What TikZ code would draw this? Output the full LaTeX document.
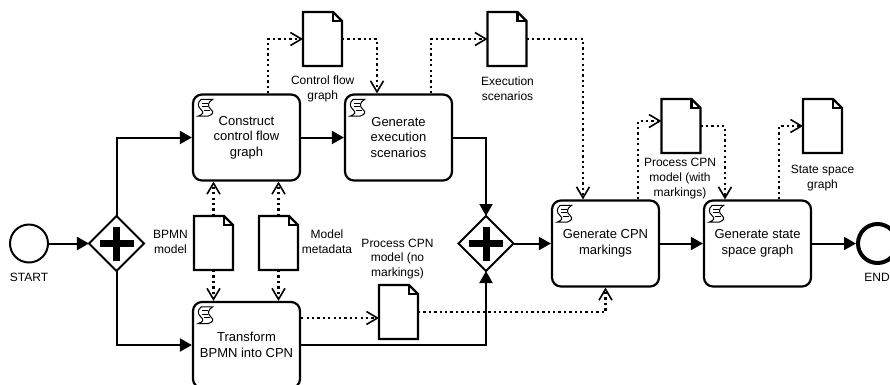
\documentclass[tikz,border=0pt]{standalone}
\usepackage{fontspec}
\setmainfont{Liberation Sans}
\usetikzlibrary{arrows.meta,shapes.geometric}

\begin{document}
\begin{tikzpicture}[x=1pt,y=-1pt]
		\tikzset{task/.style = {draw,line width=2.2pt,rounded corners=9pt,minimum width=107pt,minimum height=86pt,inner sep=0pt,align=center,font=\fontsize{13}{15.5}\selectfont}}
		\tikzset{caption/.style = {align=center,inner sep=0pt,font=\fontsize{12}{14.6}\selectfont}}
		\tikzset{event/.style = {shape=circle,draw,inner sep=0pt}}
		\tikzset{func/.style = {line width=2pt,-{Triangle[length=12pt,width=13pt]}}}
		\tikzset{data/.style = {line width=2.3pt,dash pattern=on 2.3pt off 3.1pt,-{Straight Barb[length=11pt,width=13pt,line width=1.6pt]}}}
		\tikzset{gateway/.style = {shape=diamond,draw,line width=1.8pt,inner sep=0pt,outer sep=0pt,minimum width=55pt,minimum height=55pt,
			append after command={
				([xshift=-17pt]\tikzlastnode.center) edge[line width=7pt] ([xshift=17pt]\tikzlastnode.center)
				([yshift=-17pt]\tikzlastnode.center) edge[line width=7pt] ([yshift=17pt]\tikzlastnode.center)}}}
		\tikzset{doc/.style = {inner sep=0pt,outer sep=0pt,minimum width=39pt,minimum height=54pt,
			append after command={
				(\tikzlastnode.south west) edge[line width=2.2pt,to path={-- (\tikzlastnode.north west) -- ([xshift=-9pt]\tikzlastnode.north east) -- ([yshift=-9pt]\tikzlastnode.north east) -- (\tikzlastnode.south east) -- cycle}] ()
				([xshift=-9pt]\tikzlastnode.north east) edge[line width=2.2pt,to path={|- ([yshift=-9pt]\tikzlastnode.north east)}] ()}}}
		\tikzset{scripticon/.pic = {
			\draw[line width=1pt] (9.3,6) -- (20.7,6) .. controls (15.5,9) and (15.5,13) .. (19,16) .. controls (22.5,19) and (21,21) .. (16.3,22.7) -- (6.3,22.7) .. controls (11,21) and (12.5,19) .. (9,16) .. controls (5.5,13) and (5.5,9) .. (9.3,6) -- cycle;
			\draw[line width=1pt] (10,10) -- (16,10) (10.5,13.5) -- (16.5,13.5) (12.5,17) -- (18.5,17);
		}}

		\path[use as bounding box,clip] (0,0) rectangle (890,384);

		% events
		\node[event,line width=2pt,minimum size=38pt] (start) at (29,243.5){};
		\node[caption] (startl) at (29,277){START};
		\node[event,line width=4pt,minimum size=39pt] (end) at (877.5,243.5){};
		\node[caption] (endl) at (877,277){END};

		% gateways
		\node[gateway] (gw1) at (116.5,243.5){};
		\node[gateway] (gw2) at (486,243.5){};

		% tasks
		\node[task] (tcfg) at (246.5,137.5){Construct\\control flow\\graph};
		\node[task] (tgen) at (398.5,137.5){Generate\\execution\\scenarios};
		\node[task] (ttrans) at (246.5,345){Transform\\BPMN into CPN};
		\node[task] (tmark) at (605.5,243.5){Generate CPN\\markings};
		\node[task] (tstate) at (757.5,243.5){Generate state\\space graph};
		\pic at (tcfg.north west) {scripticon};
		\pic at (tgen.north west) {scripticon};
		\pic at (ttrans.north west) {scripticon};
		\pic at (tmark.north west) {scripticon};
		\pic at (tstate.north west) {scripticon};

		% documents
		\node[doc] (dcfg) at (322.5,39){};
		\node[doc] (dexec) at (507,39){};
		\node[doc] (dbpmn) at (213.5,243){};
		\node[doc] (dmeta) at (278.5,243){};
		\node[doc] (dcpn) at (398.5,312){};
		\node[doc] (dmark) at (681,126){};
		\node[doc] (dstate) at (822.5,126){};

		% captions
		\node[caption] (lcfg) at (322.7,89){Control flow\\graph};
		\node[caption] (lexec) at (507.5,89){Execution\\scenarios};
		\node[caption] (lbpmn) at (170.5,242){BPMN\\model};
		\node[caption] (lmeta) at (327,242){Model\\metadata};
		\node[caption] (lcpn) at (397.5,259){Process CPN\\model (no\\markings)};
		\node[caption] (lmark) at (680,178.5){Process CPN\\model (with\\markings)};
		\node[caption] (lstate) at (822.5,178){State space\\graph};

		% sequence flow
		\draw[func] (start) to (gw1);
		\draw[func] (gw1.north) |- (tcfg.west);
		\draw[func] (gw1.south) |- (ttrans.west);
		\draw[func] (tcfg) to (tgen);
		\draw[func] (tgen.east) -| (gw2.north);
		\draw[func] (ttrans.east) -| (gw2.south);
		\draw[func] (gw2.east) -- (tmark.west);
		\draw[func] (tmark) to (tstate);
		\draw[func] (tstate) to (end);

		% data flow
		\draw[data] ([xshift=21.5pt]tcfg.north) |- (dcfg.west);
		\draw[data] (dcfg.east) -| ([xshift=-21.5pt]tgen.north);
		\draw[data] ([xshift=32.5pt]tgen.north) |- (dexec.west);
		\draw[data] (dexec.east) -| ([xshift=-22.5pt]tmark.north);
		\draw[data] ([xshift=32.5pt]tmark.north) |- ([yshift=5pt]dmark.west);
		\draw[data] (dmark.east) -| ([xshift=-32.5pt]tstate.north);
		\draw[data] ([xshift=21.5pt]tstate.north) |- (dstate.west);
		\draw[data] (dbpmn.north) -- ([xshift=-33pt]tcfg.south);
		\draw[data] (dbpmn.south) -- ([xshift=-33pt]ttrans.north);
		\draw[data] (dmeta.north) -- ([xshift=32pt]tcfg.south);
		\draw[data] (dmeta.south) -- ([xshift=32pt]ttrans.north);
		\draw[data] ([yshift=27pt]ttrans.east) -- ([yshift=-6pt]dcpn.west);
		\draw[data] (dcpn.east) -| (tmark.south);
	\end{tikzpicture}
\end{document}
